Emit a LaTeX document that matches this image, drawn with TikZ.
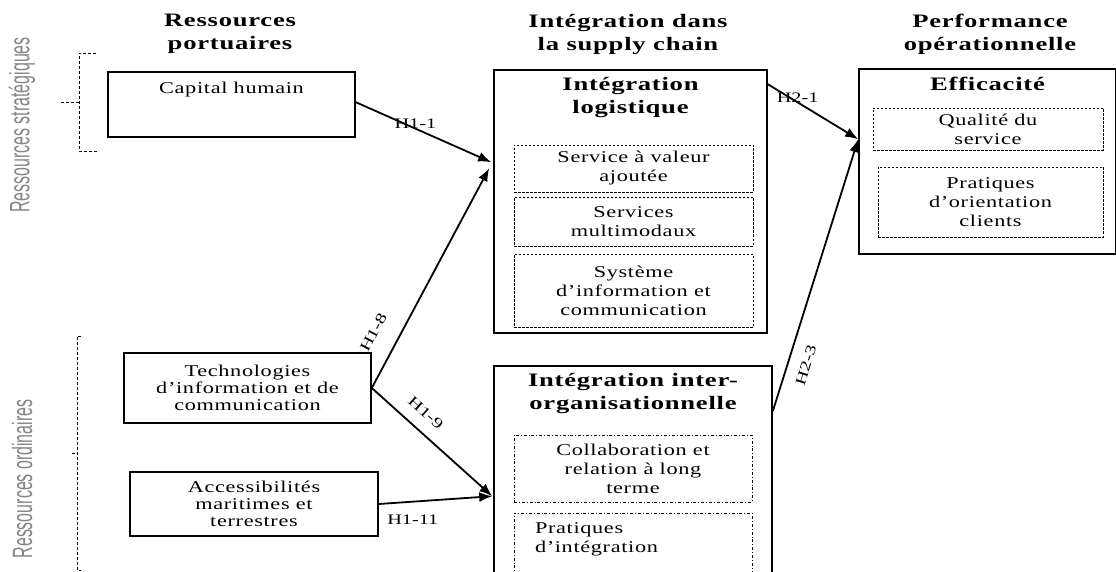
\documentclass[tikz,border=0pt]{standalone}
\usepackage{fontspec}
\usepackage{graphicx}
\setmainfont{Liberation Serif}
\newfontfamily\widefont[FakeStretch=1.35,LetterSpace=4]{Liberation Serif}
\newfontfamily\headfont[FakeStretch=1.4,LetterSpace=4]{Liberation Serif}
\newfontfamily\hypfont[FakeStretch=1.4]{Liberation Serif}
\newfontfamily\sidefont{Liberation Sans}
\usetikzlibrary{calc,positioning,arrows.meta}
\definecolor{sidegray}{gray}{0.52}
\def\BoxLine{1.6pt}
\def\DashLine{0.6pt}
\def\SideScale{0.57}

\begin{document}
\begin{tikzpicture}[x=1pt,y=-1pt,
    box/.style={draw, line width=\BoxLine, inner sep=0pt, align=center,
      font=\widefont\fontsize{16.5}{17}\selectfont},
    boxtext/.style={box, draw=none},
    subbox/.style={draw, dash pattern=on 2.5pt off 1.5pt, line width=\DashLine,
      inner sep=0pt, align=center, font=\widefont\fontsize{16.5}{19}\selectfont},
    subboxdd/.style={subbox, dash pattern=on 3pt off 2pt on 0.8pt off 2pt},
    head/.style={font=\headfont\bfseries\fontsize{19}{23}\selectfont,
      align=center, inner sep=0pt},
    hyp/.style={font=\hypfont\fontsize{14.5}{14.5}\selectfont, inner sep=1pt},
    link/.style={line width=1.8pt, -{Latex[length=13pt,width=10pt]}},
    brace/.style={densely dashed, line width=\DashLine},
    side/.style={rotate=90, text=sidegray, inner sep=0pt,
      font=\sidefont\fontsize{28}{28}\selectfont}]
  \useasboundingbox (0,0) rectangle (1116,572);
  \clip (0,0) rectangle (1116,572);
  % column headings
  \node[head] (hres) at (230,34) {Ressources\\portuaires};
  \node[head] (hint) at (628,34) {Intégration dans\\la supply chain};
  \node[head] (hperf) at (990,34) {Performance\\opérationnelle};
  % side labels
  \node[side] (strat) at (22,125) {\scalebox{\SideScale}[1]{Ressources stratégiques}};
  \node[side] (ordin) at (22,479) {\scalebox{\SideScale}[1]{Ressources ordinaires}};
  \draw[brace] (96,53) -- (79,53) -- (79,151) -- (97,151);
  \draw[brace] (61,102) -- (79,102);
  \draw[brace] (81,336) -- (77,336) -- (77,570) -- (81,570);
  \draw[brace] (72,453) -- (77,453);
  % port resources
  \node[box, minimum width=247pt, minimum height=65pt] (caphum) at (231.5,104.5) {};
  \node[boxtext, below=10pt of caphum.north] (caphumtxt) {Capital humain};
  \node[box, minimum width=247pt, minimum height=70pt] (tic) at (247.5,388)
    {Technologies\\d’information et de\\communication};
  \node[box, minimum width=248pt, minimum height=64pt] (access) at (254,504)
    {Accessibilités\\maritimes et\\terrestres};
  % supply chain integration
  \node[box, minimum width=273pt, minimum height=263pt] (intlog) at (630.5,201.5) {};
  \node[head, below=8pt of intlog.north] (intlogtitle) {Intégration\\logistique};
  \node[subbox, minimum width=239pt, minimum height=47pt] (svc) at (633.5,168.5)
    {Service à valeur\\ajoutée};
  \node[subbox, minimum width=239pt, minimum height=49pt] (multi) at (633.5,221.5)
    {Services\\multimodaux};
  \node[subbox, minimum width=239pt, minimum height=73pt] (sic) at (633.5,290.5)
    {Système\\d’information et\\communication};
  \node[box, minimum width=278pt, minimum height=230pt] (intorg) at (633,481) {};
  \node[head, below=8pt of intorg.north] (intorgtitle) {Intégration inter-\\organisationnelle};
  \node[subboxdd, minimum width=238pt, minimum height=67pt] (collab) at (633,468.5)
    {Collaboration et\\relation à long\\terme};
  \node[subboxdd, minimum width=238pt, minimum height=80pt] (pratint) at (633,553) {};
  \node[subbox, draw=none, align=left, anchor=north west] (pratinttxt)
    at ($(pratint.north west)+(21,10)$) {Pratiques\\d’intégration};
  % operational performance
  \node[box, minimum width=257pt, minimum height=185pt] (effic) at (987.5,161.5) {};
  \node[head, below=9pt of effic.north] (effictitle) {Efficacité};
  \node[subbox, minimum width=230pt, minimum height=42pt] (qual) at (988,129)
    {Qualité du\\service};
  \node[subbox, minimum width=225pt, minimum height=70pt] (orient) at (990.5,202)
    {Pratiques\\d’orientation\\clients};
  % arrow ends
  \coordinate (capout) at ($(caphum.north east)+(0,31)$);
  \coordinate (intlogA) at ($(intlog.north west)+(-2,93)$);
  \coordinate (intlogB) at ($(intlog.north west)+(-4,99)$);
  \coordinate (intorgA) at ($(intorg.north west)+(-1,131)$);
  \coordinate (intlogout) at ($(intlog.north east)+(0,15)$);
  \coordinate (intorgout) at ($(intorg.north east)+(0,46)$);
  \coordinate (efficA) at ($(effic.north west)+(0,71)$);
  % hypotheses
  \draw[link] (capout) -- (intlogA) node[hyp, pos=0.44, above=-2pt] (h11) {H1-1};
  \draw[link] (tic.east) -- (intlogB) node[hyp, sloped, pos=0.2, above=18pt] (h18) {H1-8};
  \draw[link] (tic.east) -- (intorgA) node[hyp, sloped, pos=0.35, above=11pt] (h19) {H1-9};
  \draw[link] (access.east) -- (intorgA) node[hyp, pos=0.3, below=11pt] (h111) {H1-11};
  \draw[link] (intlogout) -- (efficA) node[hyp, pos=0.33, above=-2pt] (h21) {H2-1};
  \draw[link] (intorgout) -- (efficA) node[hyp, sloped, pos=0.19, below=11pt] (h23) {H2-3};
\end{tikzpicture}
\end{document}
